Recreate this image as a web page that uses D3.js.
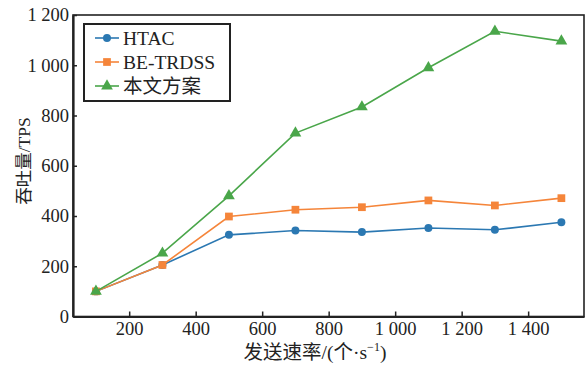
<!doctype html>
<html>
<head>
<meta charset="utf-8"/>
<title>吞吐量</title>
<style>
body{margin:0;background:#fff;}
text{font-family:"Liberation Serif","Noto Sans CJK SC",serif;}
</style>
<script src="https://d3js.org/d3.v7.min.js"></script>
</head>
<body>
<script type="text/javascript">
// data
var rates = [100, 300, 500, 700, 900, 1100, 1300, 1500];
var htac = [100, 205, 325, 342, 336, 352, 345, 375];
var betrdss = [100, 205, 398, 425, 435, 462, 442, 471];
var ours = [100, 252, 480, 730, 834, 990, 1135, 1096];
var names = ["HTAC", "BE-TRDSS", "本文方案"];
var colors = ["#2b78b2", "#f5853a", "#4aa64a"];
var xTicks = [200, 400, 600, 800, 1000, 1200, 1400];
var yTicks = [0, 200, 400, 600, 800, 1000, 1200];

var W = 586, H = 366;
var pLeft = 73, pRight = 584, pTop = 15, pBottom = 316.5;

var svg = d3.select("body").append("svg")
  .attr("width", W).attr("height", H);

var x = d3.scaleLinear().domain([31, 1568]).range([pLeft, pRight]);
var y = d3.scaleLinear().domain([0, 1200]).range([pBottom, pTop]);

var fmt = d3.formatLocale({decimal: ".", thousands: " ", grouping: [3], currency: ["", ""]}).format(",d");

// frame
svg.append("rect")
  .attr("x", pLeft).attr("y", pTop)
  .attr("width", pRight - pLeft).attr("height", pBottom - pTop)
  .attr("fill", "none").attr("stroke", "#222").attr("stroke-width", 1.6);

var gx = svg.append("g").attr("transform", "translate(0," + pBottom + ")")
  .call(d3.axisBottom(x).tickValues(xTicks).tickFormat(fmt).tickSizeInner(-5).tickSizeOuter(0).tickPadding(5));
var gy = svg.append("g").attr("transform", "translate(" + pLeft + ",0)")
  .call(d3.axisLeft(y).tickValues(yTicks).tickFormat(fmt).tickSizeInner(-4).tickSizeOuter(0).tickPadding(4));

[gx, gy].forEach(function(g){
  g.select(".domain").attr("stroke", "#222").attr("stroke-width", 2.2);
  g.selectAll(".tick line").attr("stroke", "#222").attr("stroke-width", 1.5);
  g.selectAll(".tick text").attr("font-family", "Liberation Serif").attr("font-size", 18.5).attr("fill", "#222");
});

// series
var series = [htac, betrdss, ours];
var symbols = [d3.symbolCircle, d3.symbolSquare, d3.symbolTriangle];
var sizes = [50, 60, 60];

var line = d3.line().x(function(d, i){ return x(rates[i]); }).y(function(d){ return y(d); });

series.forEach(function(s, k){
  svg.append("path").datum(s)
    .attr("d", line)
    .attr("fill", "none")
    .attr("stroke", colors[k])
    .attr("stroke-width", 1.6);
  svg.selectAll(null).data(s).enter().append("path")
    .attr("transform", function(d, i){ return "translate(" + x(rates[i]) + "," + y(d) + ")"; })
    .attr("d", d3.symbol().type(symbols[k]).size(sizes[k]))
    .attr("fill", colors[k]);
});

// legend
var lg = svg.append("g");
lg.append("rect")
  .attr("x", 84).attr("y", 24).attr("width", 146).attr("height", 77)
  .attr("fill", "#fff").attr("stroke", "#222").attr("stroke-width", 2);
names.forEach(function(n, k){
  var ly = 38 + k * 24;
  lg.append("line").attr("x1", 95).attr("x2", 119).attr("y1", ly).attr("y2", ly)
    .attr("stroke", colors[k]).attr("stroke-width", 1.6);
  lg.append("path").attr("transform", "translate(107," + ly + ")")
    .attr("d", d3.symbol().type(symbols[k]).size(sizes[k]))
    .attr("fill", colors[k]);
  lg.append("text").attr("x", 123).attr("y", ly + 7)
    .attr("font-size", 19.5).attr("fill", "#222").text(n);
});

// axis titles
svg.append("text")
  .attr("transform", "translate(30,161) rotate(-90)")
  .attr("text-anchor", "middle")
  .attr("font-size", 17.5).attr("fill", "#222")
  .text("吞吐量/TPS");

var xt = svg.append("text")
  .attr("x", 315).attr("y", 359)
  .attr("text-anchor", "middle")
  .attr("font-size", 19.5).attr("fill", "#222");
xt.append("tspan").text("发送速率/(个·s");
xt.append("tspan").attr("font-size", 12).attr("dy", -8).text("−1");
xt.append("tspan").attr("dy", 8).text(")");
</script>
</body>
</html>
